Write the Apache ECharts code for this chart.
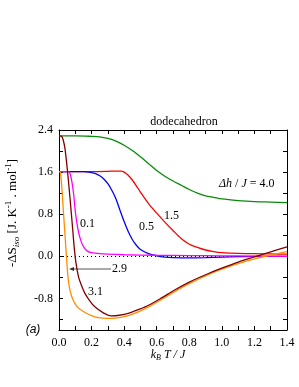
<!DOCTYPE html>
<html>
<head>
<meta charset="utf-8">
<script src="https://cdn.jsdelivr.net/npm/echarts@6/dist/echarts.min.js"></script>
<style>html,body{margin:0;padding:0;background:#fff}#c{width:299px;height:387px}</style>
</head>
<body>
<div id="c"></div>
<script>
// ---- data ----
var title = 'dodecahedron';
var xTickLabels = ['0.0','0.2','0.4','0.6','0.8','1.0','1.2','1.4'];
var yTickLabels = [-0.8, 0.0, 0.8, 1.6, 2.4];
var yMinorTicks = [-1.2, -0.8, -0.4, 0.0, 0.4, 0.8, 1.2, 1.6, 2.0, 2.4];
var seriesNames = ['4.0', '1.5', '0.5', '0.1', '2.9', '3.1'];

var x40 = [0, 0.1, 0.2, 0.25, 0.3, 0.35, 0.4, 0.45, 0.5, 0.55, 0.6, 0.65, 0.7, 0.75, 0.8, 0.85, 0.9, 0.95, 1.0, 1.1, 1.2, 1.3, 1.4];
var y40 = [2.29, 2.29, 2.28, 2.27, 2.24, 2.19, 2.11, 2.01, 1.89, 1.76, 1.63, 1.52, 1.43, 1.35, 1.27, 1.20, 1.15, 1.12, 1.09, 1.06, 1.04, 1.03, 1.02];

var x15 = [0, 0.1, 0.2, 0.3, 0.35, 0.38, 0.4, 0.425, 0.45, 0.475, 0.5, 0.55, 0.6, 0.65, 0.7, 0.75, 0.8, 0.85, 0.9, 0.95, 1.0, 1.1, 1.2, 1.3, 1.4];
var y15 = [1.61, 1.61, 1.61, 1.615, 1.62, 1.62, 1.60, 1.54, 1.45, 1.34, 1.22, 1.0, 0.82, 0.65, 0.49, 0.34, 0.23, 0.17, 0.12, 0.09, 0.07, 0.055, 0.05, 0.045, 0.04];

var x05 = [0, 0.1, 0.15, 0.2, 0.225, 0.25, 0.275, 0.3, 0.325, 0.35, 0.375, 0.4, 0.425, 0.45, 0.475, 0.5, 0.55, 0.6, 0.65, 0.7, 0.8, 0.9, 1.0, 1.1, 1.2, 1.4];
var y05 = [1.61, 1.61, 1.61, 1.59, 1.57, 1.53, 1.47, 1.38, 1.25, 1.09, 0.87, 0.66, 0.47, 0.32, 0.21, 0.13, 0.05, 0.01, -0.015, -0.025, -0.03, -0.025, -0.015, -0.005, 0.0, 0.0];

var x01 = [0, 0.04, 0.06, 0.07, 0.08, 0.09, 0.1, 0.11, 0.12, 0.13, 0.14, 0.16, 0.18, 0.2, 0.25, 0.3, 0.4, 0.6, 0.8, 1.0, 1.2, 1.4];
var y01 = [1.61, 1.61, 1.61, 1.55, 1.40, 1.18, 0.86, 0.63, 0.46, 0.34, 0.25, 0.14, 0.09, 0.07, 0.05, 0.04, 0.03, 0.02, 0.015, 0.01, 0.005, 0.0];

var x29 = [0, 0.008, 0.016, 0.026, 0.037, 0.047, 0.057, 0.07, 0.088, 0.11, 0.14, 0.18, 0.22, 0.27, 0.32, 0.37, 0.43, 0.49, 0.55, 0.63, 0.71, 0.8, 0.9, 1.0, 1.1, 1.2, 1.3, 1.4];
var y29 = [1.61, 1.60, 1.36, 0.90, 0.40, -0.06, -0.45, -0.68, -0.84, -0.95, -1.03, -1.10, -1.15, -1.175, -1.18, -1.165, -1.12, -1.05, -0.96, -0.82, -0.67, -0.52, -0.37, -0.245, -0.14, -0.05, 0.025, 0.09];

var x31 = [0, 0.015, 0.025, 0.037, 0.053, 0.068, 0.082, 0.094, 0.104, 0.12, 0.14, 0.16, 0.19, 0.22, 0.27, 0.32, 0.37, 0.43, 0.49, 0.55, 0.63, 0.71, 0.8, 0.9, 1.0, 1.1, 1.2, 1.3, 1.4];
var y31 = [2.29, 2.28, 2.22, 2.04, 1.59, 1.09, 0.59, 0.15, -0.12, -0.39, -0.57, -0.71, -0.85, -0.96, -1.07, -1.13, -1.12, -1.08, -1.01, -0.93, -0.79, -0.64, -0.49, -0.35, -0.225, -0.11, -0.01, 0.085, 0.18];

var xsAll = [x40, x15, x05, x01, x29, x31];
var ysAll = [y40, y15, y05, y01, y29, y31];
var colors = ['#0a8a0a', '#ff0000', '#0000ff', '#ff00ff', '#ff8c00', '#800000'];

function zip(xs, ys) { return xs.map(function (x, i) { return [x, ys[i]]; }); }

var FONT = 'Liberation Serif';
var chart = echarts.init(document.getElementById('c'), null, {renderer: 'canvas'});

var series = seriesNames.map(function (n, i) {
  var s = {
    name: n, type: 'line', data: zip(xsAll[i], ysAll[i]),
    showSymbol: false, symbol: 'none', smooth: 0.3,
    lineStyle: {color: colors[i], width: 1.3}, itemStyle: {color: colors[i]},
    silent: true, animation: false, z: 3 + i
  };
  if (i === 3) {
    s.markLine = {
      silent: true, symbol: ['none', 'none'], label: {show: false},
      lineStyle: {color: '#000', type: [1, 3], width: 1},
      data: [{yAxis: 0}], animation: false
    };
  }
  return s;
});

var axisCommon = {
  axisLine: {show: true, onZero: false, lineStyle: {color: '#000', width: 1}},
  splitLine: {show: false}
};

var option = {
  animation: false,
  backgroundColor: '#fff',
  grid: {left: 59, right: 12, top: 130, bottom: 57, containLabel: false},
  xAxis: [
    Object.assign({
      type: 'value', min: 0, max: 1.4, interval: 0.1, position: 'bottom',
      axisTick: {show: true, inside: true, length: 4, lineStyle: {color: '#000'}},
      axisLabel: {
        show: true, margin: 7, color: '#000', fontFamily: FONT, fontSize: 12,
        formatter: function (v) {
          var k = Math.round(v * 10);
          return k % 2 === 0 ? xTickLabels[k / 2] : '';
        }
      }
    }, axisCommon),
    Object.assign({
      type: 'value', min: 0, max: 1.4, interval: 0.1, position: 'top',
      axisTick: {show: true, inside: true, length: 4, lineStyle: {color: '#000'}},
      axisLabel: {show: false}
    }, axisCommon)
  ],
  yAxis: [
    Object.assign({
      type: 'value', min: -1.4, max: 2.4, position: 'left',
      axisTick: {show: true, inside: true, length: 4, customValues: yMinorTicks, lineStyle: {color: '#000'}},
      axisLabel: {
        show: true, margin: 6, color: '#000', fontFamily: FONT, fontSize: 12,
        customValues: yTickLabels,
        formatter: function (v) { return v.toFixed(1); }
      }
    }, axisCommon),
    Object.assign({
      type: 'value', min: -1.4, max: 2.4, position: 'right',
      axisTick: {show: true, inside: true, length: 4, customValues: yMinorTicks, lineStyle: {color: '#000'}},
      axisLabel: {show: false}
    }, axisCommon)
  ],
  series: series,
  graphic: [
    {type: 'text', x: 184, y: 122, style: {text: title, font: '12px "' + FONT + '"', fill: '#000', textAlign: 'center', textVerticalAlign: 'middle'}},
    {type: 'text', x: 13, y: 213, rotation: Math.PI / 2,
      style: {
        text: '{n|-ΔS}{sub|iso}{n| [J. K}{sup|-1}{n| . mol}{sup|-1}{n|]}',
        textAlign: 'center', textVerticalAlign: 'middle', fill: '#000',
        rich: {
          n: {fontFamily: FONT, fontSize: 13, lineHeight: 17, verticalAlign: 'middle'},
          sub: {fontFamily: FONT, fontSize: 9, fontStyle: 'italic', lineHeight: 17, verticalAlign: 'bottom', padding: [6, 0, 0, 0]},
          sup: {fontFamily: FONT, fontSize: 9, lineHeight: 17, verticalAlign: 'top', padding: [0, 0, 6, 0]}
        }
      }},
    {type: 'text', x: 168, y: 355,
      style: {
        text: '{i|k}{sub|B}{i| T / J}',
        textAlign: 'center', textVerticalAlign: 'middle', fill: '#000',
        rich: {
          i: {fontFamily: FONT, fontSize: 12, fontStyle: 'italic', lineHeight: 16},
          sub: {fontFamily: FONT, fontSize: 8, fontStyle: 'italic', lineHeight: 16, padding: [6, 0, 0, 0]}
        }
      }},
    {type: 'text', x: 33, y: 330, style: {text: '(a)', font: 'italic 12px "Liberation Sans"', fill: '#000', textAlign: 'center', textVerticalAlign: 'middle'}},
    {type: 'text', x: 219, y: 184,
      style: {
        text: '{i|Δh} / {i|J} = 4.0', font: '12px "' + FONT + '"', fill: '#000', textAlign: 'left', textVerticalAlign: 'middle',
        rich: {i: {fontFamily: FONT, fontSize: 12, fontStyle: 'italic'}}
      }},
    {type: 'text', x: 80, y: 224, style: {text: '0.1', font: '12px "' + FONT + '"', fill: '#000', textAlign: 'left', textVerticalAlign: 'middle'}},
    {type: 'text', x: 139, y: 227, style: {text: '0.5', font: '12px "' + FONT + '"', fill: '#000', textAlign: 'left', textVerticalAlign: 'middle'}},
    {type: 'text', x: 164, y: 216, style: {text: '1.5', font: '12px "' + FONT + '"', fill: '#000', textAlign: 'left', textVerticalAlign: 'middle'}},
    {type: 'text', x: 112, y: 269, style: {text: '2.9', font: '12px "' + FONT + '"', fill: '#000', textAlign: 'left', textVerticalAlign: 'middle'}},
    {type: 'text', x: 88, y: 292, style: {text: '3.1', font: '12px "' + FONT + '"', fill: '#000', textAlign: 'left', textVerticalAlign: 'middle'}},
    {type: 'line', shape: {x1: 111, y1: 269, x2: 72, y2: 269}, style: {stroke: '#555', lineWidth: 1}},
    {type: 'polygon', shape: {points: [[69, 269], [74, 267], [74, 271]]}, style: {fill: '#333'}}
  ]
};
chart.setOption(option);
</script>
</body>
</html>
